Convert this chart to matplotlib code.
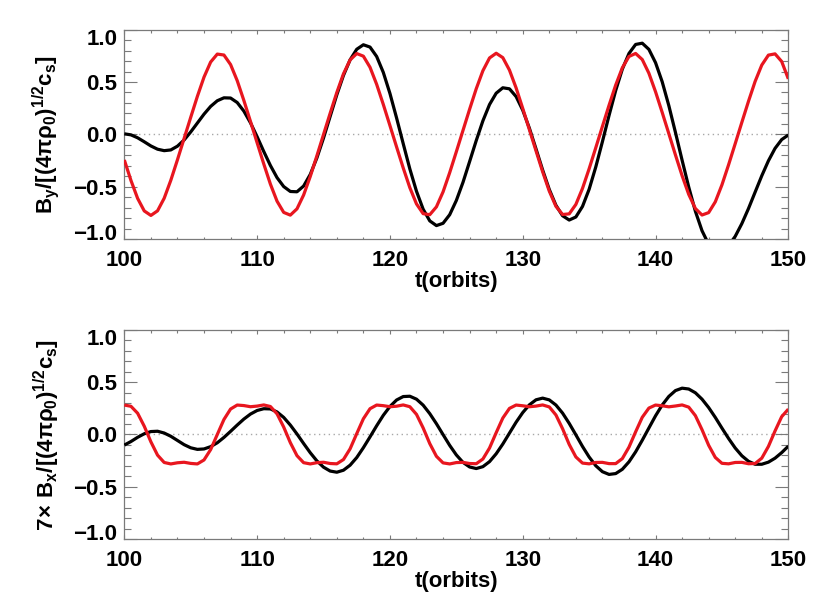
import matplotlib
matplotlib.use('Agg')
import matplotlib.pyplot as plt
import numpy as np
from matplotlib.ticker import MultipleLocator, FixedLocator, FuncFormatter
from matplotlib.transforms import ScaledTranslation

t_orbits = np.arange(100.0, 150.01, 0.5)

by_black = [
    0.005, -0.005, -0.033, -0.071, -0.111, -0.142, -0.156, -0.149, -0.113, -0.054,
    0.023, 0.108, 0.193, 0.267, 0.321, 0.349, 0.347, 0.304, 0.222, 0.110,
    -0.023, -0.164, -0.298, -0.414, -0.499, -0.546, -0.549, -0.494, -0.383, -0.225,
    -0.035, 0.172, 0.378, 0.563, 0.712, 0.813, 0.856, 0.834, 0.744, 0.592,
    0.391, 0.157, -0.089, -0.331, -0.544, -0.715, -0.827, -0.872, -0.850, -0.768,
    -0.632, -0.459, -0.260, -0.059, 0.129, 0.285, 0.393, 0.445, 0.435, 0.361,
    0.231, 0.059, -0.139, -0.341, -0.527, -0.678, -0.778, -0.819, -0.790, -0.689,
    -0.525, -0.312, -0.070, 0.181, 0.419, 0.623, 0.773, 0.859, 0.871, 0.812,
    0.685, 0.503, 0.275, 0.018, -0.247, -0.504, -0.735, -0.921, -1.051, -1.114,
    -1.112, -1.064, -0.975, -0.853, -0.709, -0.552, -0.396, -0.253, -0.134, -0.050,
    -0.006]

by_red = [
    -0.245, -0.441, -0.612, -0.732, -0.775, -0.731, -0.611, -0.439, -0.243, -0.040,
    0.163, 0.363, 0.547, 0.691, 0.767, 0.758, 0.667, 0.513, 0.324, 0.123,
    -0.081, -0.283, -0.476, -0.639, -0.746, -0.772, -0.712, -0.580, -0.403, -0.205,
    -0.001, 0.202, 0.400, 0.578, 0.711, 0.772, 0.747, 0.641, 0.478, 0.286,
    0.084, -0.120, -0.321, -0.510, -0.665, -0.758, -0.768, -0.693, -0.550, -0.366,
    -0.166, 0.037, 0.240, 0.436, 0.608, 0.730, 0.775, 0.733, 0.614, 0.444,
    0.248, 0.045, -0.158, -0.358, -0.543, -0.688, -0.766, -0.760, -0.670, -0.517,
    -0.329, -0.128, 0.076, 0.278, 0.471, 0.636, 0.744, 0.773, 0.715, 0.584,
    0.407, 0.210, 0.007, -0.197, -0.395, -0.574, -0.709, -0.771, -0.748, -0.645,
    -0.483, -0.291, -0.089, 0.115, 0.316, 0.506, 0.662, 0.757, 0.769, 0.696,
    0.530]

bx_black = [
    -0.101, -0.067, -0.027, 0.007, 0.028, 0.031, 0.014, -0.017, -0.057, -0.097,
    -0.127, -0.142, -0.138, -0.116, -0.079, -0.028, 0.030, 0.090, 0.147, 0.195,
    0.229, 0.246, 0.244, 0.215, 0.163, 0.090, 0.005, -0.086, -0.174, -0.252,
    -0.312, -0.349, -0.360, -0.341, -0.293, -0.220, -0.126, -0.023, 0.083, 0.183,
    0.267, 0.329, 0.362, 0.365, 0.337, 0.280, 0.199, 0.103, -0.001, -0.104,
    -0.195, -0.266, -0.310, -0.325, -0.307, -0.259, -0.184, -0.091, 0.013, 0.117,
    0.209, 0.283, 0.331, 0.347, 0.330, 0.281, 0.204, 0.106, -0.003, -0.114,
    -0.215, -0.298, -0.355, -0.381, -0.373, -0.332, -0.261, -0.166, -0.055, 0.062,
    0.178, 0.281, 0.363, 0.419, 0.442, 0.434, 0.398, 0.337, 0.257, 0.163,
    0.061, -0.038, -0.129, -0.203, -0.256, -0.284, -0.284, -0.264, -0.226, -0.173,
    -0.111]

bx_red = [
    0.281, 0.269, 0.203, 0.079, -0.070, -0.197, -0.267, -0.281, -0.270, -0.265,
    -0.276, -0.281, -0.243, -0.144, 0.000, 0.143, 0.243, 0.281, 0.276, 0.265,
    0.271, 0.282, 0.267, 0.197, 0.071, -0.078, -0.202, -0.269, -0.281, -0.269,
    -0.265, -0.277, -0.280, -0.239, -0.137, 0.008, 0.150, 0.246, 0.281, 0.275,
    0.265, 0.270, 0.282, 0.265, 0.192, 0.063, -0.087, -0.208, -0.271, -0.281,
    -0.268, -0.266, -0.277, -0.279, -0.234, -0.129, 0.017, 0.157, 0.249, 0.281,
    0.274, 0.265, 0.271, 0.282, 0.263, 0.186, 0.055, -0.095, -0.214, -0.273,
    -0.280, -0.267, -0.266, -0.278, -0.278, -0.230, -0.121, 0.025, 0.164, 0.252,
    0.281, 0.274, 0.264, 0.272, 0.282, 0.261, 0.180, 0.046, -0.103, -0.219,
    -0.275, -0.280, -0.267, -0.266, -0.279, -0.277, -0.226, -0.114, 0.034, 0.170,
    0.242]

x_ticks = [100, 110, 120, 130, 140, 150]
y_ticks = [-1.0, -0.5, 0.0, 0.5, 1.0]
x_label = 't(orbits)'
y_label_top = (r'$\mathbf{B}_\mathbf{y}\mathbf{/[(4}\pi\rho_\mathbf{0}\mathbf{)}'
               r'^{1/2}\mathbf{c}_\mathbf{s}\mathbf{]}$')
y_label_bot = (r'$\mathbf{7}\!\times\,\mathbf{B}_\mathbf{x}\mathbf{/[(4}\pi\rho_\mathbf{0}'
               r'\mathbf{)}^{1/2}\mathbf{c}_\mathbf{s}\mathbf{]}$')

# ---------------- style -------------
plt.rcParams['font.family'] = ['Liberation Sans', 'DejaVu Sans']
plt.rcParams['font.weight'] = 'bold'
plt.rcParams['mathtext.fontset'] = 'custom'
plt.rcParams['mathtext.rm'] = 'Liberation Sans'
plt.rcParams['mathtext.it'] = 'Liberation Sans'
plt.rcParams['mathtext.bf'] = 'Liberation Sans:bold'
plt.rcParams['mathtext.sf'] = 'Liberation Sans'
plt.rcParams['axes.unicode_minus'] = True

RED = '#e8161f'
FRAME = '#7a7a7a'
FS = 16

fig = plt.figure(figsize=(8.3, 6.0), dpi=100)
ax1 = fig.add_axes([0.1498, 0.6017, 0.8000, 0.3488])
ax2 = fig.add_axes([0.1498, 0.1012, 0.8000, 0.3493])


def yfmt(v, pos):
    s = '%.1f' % v
    return s.replace('-', '\u2212')


def style(ax, ylabel, black, red):
    ax.axhline(0.0, color='#a8a8a8', lw=1.0, ls=(0, (1, 2.5)), zorder=1)
    ax.plot(t_orbits, black, color='black', lw=2.3, zorder=3,
            solid_joinstyle='round', solid_capstyle='butt')
    ax.plot(t_orbits, red, color=RED, lw=2.3, zorder=4,
            solid_joinstyle='round', solid_capstyle='butt')
    ax.set_xlim(100, 150)
    ax.set_ylim(-1.0, 1.0)
    ax.xaxis.set_major_locator(FixedLocator(x_ticks))
    ax.xaxis.set_minor_locator(MultipleLocator(2))
    ax.yaxis.set_major_locator(FixedLocator(y_ticks))
    ax.yaxis.set_minor_locator(MultipleLocator(0.1))
    ax.yaxis.set_major_formatter(FuncFormatter(yfmt))
    ax.xaxis.set_major_formatter(FuncFormatter(lambda v, p: '%d' % v))
    for s in ax.spines.values():
        s.set_color(FRAME)
        s.set_linewidth(0.9)
    ax.tick_params(which='both', direction='in', top=True, right=True,
                   color=FRAME, width=0.8, labelsize=FS)
    ax.tick_params(axis='y', which='major', length=9.5, pad=5)
    ax.tick_params(axis='y', which='minor', length=5.0)
    ax.tick_params(axis='x', which='major', length=3.2, pad=8)
    ax.tick_params(axis='x', which='minor', length=1.8)
    for lab in ax.get_xticklabels() + ax.get_yticklabels():
        lab.set_fontweight('bold')
    ax.set_xlabel(x_label, fontsize=FS, fontweight='bold', labelpad=0)
    ax.set_ylabel(ylabel, fontsize=FS)
    ax.yaxis.set_label_coords(-0.094, 0.5)
    labs = ax.get_yticklabels()
    labs[-1].set_transform(labs[-1].get_transform() +
                           ScaledTranslation(0, -7 / 100, fig.dpi_scale_trans))
    labs[0].set_transform(labs[0].get_transform() +
                          ScaledTranslation(0, 7 / 100, fig.dpi_scale_trans))


style(ax1, y_label_top, by_black, by_red)
style(ax2, y_label_bot, bx_black, bx_red)

fig.savefig('out.png', dpi=100)
